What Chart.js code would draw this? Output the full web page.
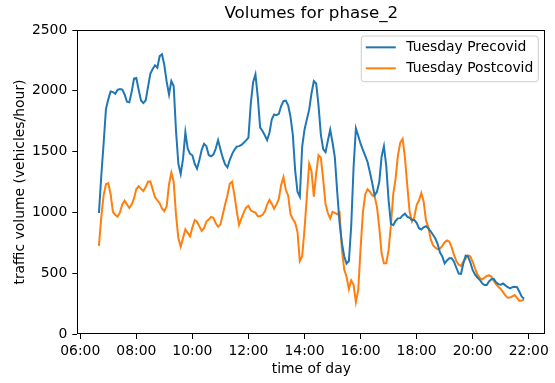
<!DOCTYPE html>
<html>
<head>
<meta charset="utf-8">
<script src="https://cdn.jsdelivr.net/npm/chart.js@4.4.1/dist/chart.umd.min.js"></script>
<style>
  html, body { margin: 0; padding: 0; background: #fff; }
  #wrap { width: 555px; height: 383px; }
</style>
</head>
<body>
<div id="wrap"><canvas id="c"></canvas></div>
<script>
// Sampling grid: 5-minute readings starting at 06:40
const START_MINUTES = 6 * 60 + 40;
const STEP_MINUTES = 5;

// Tuesday volumes (vehicles/hour), one value per 5-minute step
const precovid = [
  995, 1300, 1565, 1850, 1930, 1995, 1990, 1975, 2008, 2015,
  2010, 1970, 1910, 1905, 1990, 2100, 2105, 2010, 1920, 1900,
  1920, 2030, 2140, 2180, 2210, 2190, 2285, 2300, 2210, 2075,
  1970, 2080, 2040, 1670, 1400, 1316, 1440, 1660, 1525, 1482,
  1470, 1400, 1360, 1431, 1515, 1565, 1545, 1472, 1462, 1475,
  1525, 1595, 1520, 1450, 1395, 1370, 1431, 1480, 1515, 1541,
  1545, 1555, 1573, 1592, 1615, 1895, 2070, 2135, 1950, 1700,
  1670, 1635, 1595, 1655, 1765, 1805, 1800, 1810, 1875, 1915,
  1920, 1880, 1787, 1640, 1345, 1170, 1129, 1540, 1680, 1765,
  1845, 1980, 2080, 2060, 1880, 1640, 1520, 1495, 1590, 1680,
  1575, 1450, 1170, 915, 750, 640, 580, 600, 890, 1370,
  1691, 1630, 1565, 1515, 1465, 1415, 1330, 1240, 1140, 1170,
  1250, 1458, 1545, 1380, 1100, 905, 895, 930, 951, 953,
  975, 990, 965, 955, 937, 937, 915, 870, 860, 878,
  886, 869, 845, 816, 785, 740, 670, 638, 580, 605,
  622, 622, 595, 545, 497, 495, 581, 645, 638, 588,
  525, 490, 465, 446, 418, 403, 403, 432, 450, 453,
  425, 410, 406, 416, 400, 385, 376, 385, 389, 385,
  347, 307, 290
];

const postcovid = [
  725, 960, 1140, 1232, 1240, 1150, 1005, 979, 966, 1000,
  1066, 1096, 1065, 1037, 1065, 1115, 1190, 1215, 1196, 1175,
  1208, 1252, 1255, 1190, 1125, 1100, 1076, 1032, 1010, 1050,
  1230, 1328, 1250, 980, 790, 718, 790, 860, 832, 803,
  875, 937, 923, 885, 848, 870, 925, 941, 962, 955,
  910, 883, 900, 980, 1065, 1140, 1235, 1252, 1145, 1010,
  898, 951, 1000, 1040, 1055, 1015, 1006, 998, 968, 968,
  980, 1006, 1065, 1103, 1070, 1030, 1066, 1110, 1225, 1290,
  1184, 1140, 985, 946, 915, 840, 600, 640, 860, 1130,
  1400, 1340, 1130, 1320, 1470, 1450, 1270, 1070, 995, 950,
  1005, 996, 985, 1000, 700, 530, 471, 370, 440, 405,
  262, 360, 700, 1000, 1150, 1190, 1170, 1140, 1135, 1047,
  880, 664, 581, 581, 690, 900, 1150, 1280, 1470, 1575,
  1605, 1450, 1220, 1005, 925, 960, 1061, 1098, 1160, 1090,
  935, 880, 782, 730, 710, 697, 702, 725, 755, 770,
  760, 712, 650, 600, 570, 560, 595, 620, 647, 638,
  594, 540, 490, 462, 448, 463, 478, 482, 472, 438,
  409, 389, 370, 345, 318, 298, 300, 310, 320, 297,
  272, 275, 285
];

// Axis ticks: hours of the day and volume levels
const hourTicks = [6, 8, 10, 12, 14, 16, 18, 20, 22];
const volumeTicks = [0, 500, 1000, 1500, 2000, 2500];

const FAMILY = '"DejaVu Sans", sans-serif';
const FONT_SIZE = 13.9;

// time of day in hours for each sample
const hours = precovid.map((_, i) => (START_MINUTES + i * STEP_MINUTES) / 60);
const toPoints = values => values.map((v, i) => ({ x: hours[i], y: v }));

// Draws the frame around the plot area and the boxed legend in its upper right
const frameAndLegend = {
  id: 'frameAndLegend',
  afterDatasetsDraw(chart) {
    const { ctx, chartArea: a } = chart;
    ctx.save();
    ctx.strokeStyle = '#000';
    ctx.lineWidth = 1;
    const l = Math.round(a.left) + 0.5, t = Math.round(a.top) + 0.5;
    const r = Math.round(a.right) - 0.5, b = Math.round(a.bottom) - 0.5;
    ctx.strokeRect(l, t, r - l, b - t);

    ctx.font = FONT_SIZE + 'px ' + FAMILY;
    const sets = chart.data.datasets;
    const textW = Math.max(...sets.map(d => ctx.measureText(d.label).width));
    const right = a.right - 7;
    const top = a.top + 6;
    const rowH = 21;
    const textX = right - 5 - textW;
    const hEnd = textX - 10.5;
    const hStart = hEnd - 30;
    const left = hStart - 4.5;
    const height = 45.7;
    const rad = 3;

    ctx.beginPath();
    ctx.moveTo(left + rad, top);
    ctx.lineTo(right - rad, top);
    ctx.arcTo(right, top, right, top + rad, rad);
    ctx.lineTo(right, top + height - rad);
    ctx.arcTo(right, top + height, right - rad, top + height, rad);
    ctx.lineTo(left + rad, top + height);
    ctx.arcTo(left, top + height, left, top + height - rad, rad);
    ctx.lineTo(left, top + rad);
    ctx.arcTo(left, top, left + rad, top, rad);
    ctx.closePath();
    ctx.fillStyle = 'rgba(255,255,255,0.8)';
    ctx.fill();
    ctx.strokeStyle = '#cccccc';
    ctx.lineWidth = 1;
    ctx.stroke();

    sets.forEach((d, i) => {
      const y = top + 11.3 + i * rowH;
      ctx.beginPath();
      ctx.moveTo(hStart, y);
      ctx.lineTo(hEnd, y);
      ctx.strokeStyle = d.borderColor;
      ctx.lineWidth = 2;
      ctx.stroke();
      ctx.fillStyle = '#000';
      ctx.textAlign = 'left';
      ctx.textBaseline = 'middle';
      ctx.fillText(d.label, textX, y + 0.5);
    });
    ctx.restore();
  }
};

const tickFont = { family: FAMILY, size: FONT_SIZE };
const tickGrid = {
  display: true, drawOnChartArea: false, drawTicks: true,
  tickLength: 5, color: '#000', lineWidth: 1
};

new Chart(document.getElementById('c'), {
  type: 'line',
  data: {
    datasets: [
      {
        label: 'Tuesday Precovid', data: toPoints(precovid),
        borderColor: '#1f77b4', borderWidth: 2, pointRadius: 0, tension: 0, fill: false
      },
      {
        label: 'Tuesday Postcovid', data: toPoints(postcovid),
        borderColor: '#ff7f0e', borderWidth: 2, pointRadius: 0, tension: 0, fill: false
      }
    ]
  },
  options: {
    responsive: true,
    maintainAspectRatio: false,
    animation: false,
    layout: { padding: { left: 0, right: 9.7, top: 0, bottom: 0 } },
    plugins: {
      legend: { display: false },
      tooltip: { enabled: false },
      title: {
        display: true, text: 'Volumes for phase_2', fullSize: false, color: '#000',
        font: { family: FAMILY, size: 16.7, weight: 'normal', lineHeight: 1.2 },
        padding: { top: 3.7, bottom: 6.3 }
      }
    },
    scales: {
      x: {
        type: 'linear', min: 5.895, max: 22.59,
        afterBuildTicks: s => { s.ticks = hourTicks.map(v => ({ value: v })); },
        afterFit: s => { s.height = 49; },
        ticks: {
          color: '#000', font: tickFont, padding: 4, maxRotation: 0, autoSkip: false,
          callback: v => String(v).padStart(2, '0') + ':00'
        },
        grid: tickGrid,
        border: { display: false },
        title: {
          display: true, text: 'time of day', color: '#000',
          font: { family: FAMILY, size: FONT_SIZE, lineHeight: 1.2 },
          padding: { top: 0, bottom: 5.7 }
        }
      },
      y: {
        min: 0, max: 2500,
        afterBuildTicks: s => { s.ticks = volumeTicks.map(v => ({ value: v })); },
        afterFit: s => { s.width = 77.3; },
        ticks: { color: '#000', font: tickFont, padding: 5, callback: v => String(v) },
        grid: tickGrid,
        border: { display: false },
        title: {
          display: true, text: 'traffic volume (vehicles/hour)', color: '#000',
          font: { family: FAMILY, size: FONT_SIZE, lineHeight: 1.2 },
          padding: { top: 11.7, bottom: 0 }
        }
      }
    }
  },
  plugins: [frameAndLegend]
});
</script>
</body>
</html>
